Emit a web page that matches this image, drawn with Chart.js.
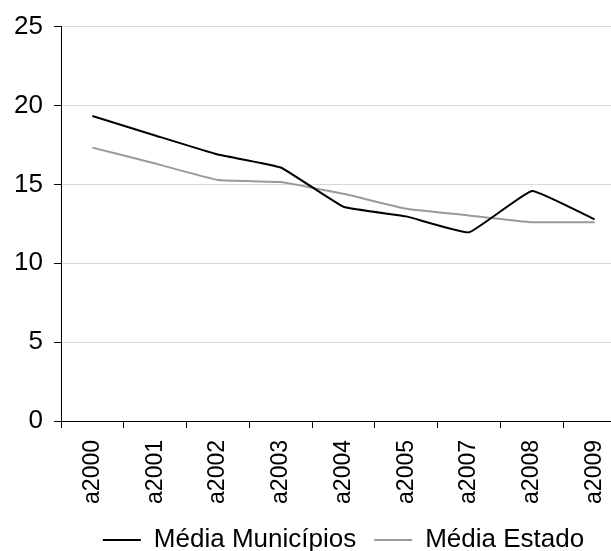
<!DOCTYPE html>
<html>
<head>
<meta charset="utf-8">
<script src="https://cdn.jsdelivr.net/npm/chart.js@4/dist/chart.umd.min.js"></script>
<style>
  html, body { margin: 0; padding: 0; background: #fff; overflow: hidden; width: 611px; height: 551px; }
  #wrap { position: absolute; left: 0; top: 0; width: 640px; height: 563px; }
</style>
</head>
<body>
<div id="wrap"><canvas id="chart"></canvas></div>
<script>
// Categories (years) and the two series
const years = ['a2000', 'a2001', 'a2002', 'a2003', 'a2004', 'a2005', 'a2007', 'a2008', 'a2009'];
const mediaMunicipios = [19.33, 18.1, 16.89, 16.07, 13.58, 12.97, 11.96, 14.58, 12.78];
const mediaEstado = [17.33, 16.32, 15.28, 15.15, 14.4, 13.45, 13.03, 12.6, 12.6];
const yTicks = [0, 5, 10, 15, 20, 25];

const FONT = '"Liberation Sans", Arial, Helvetica, sans-serif';

new Chart(document.getElementById('chart'), {
  type: 'line',
  data: {
    labels: years,
    datasets: [
      {
        label: 'Média Municípios',
        data: mediaMunicipios,
        borderColor: '#000000',
        backgroundColor: '#000000',
        borderWidth: 2,
        pointRadius: 0,
        tension: 0.1
      },
      {
        label: 'Média Estado',
        data: mediaEstado,
        borderColor: '#9a9a9a',
        backgroundColor: '#9a9a9a',
        borderWidth: 2,
        pointRadius: 0,
        tension: 0.1
      }
    ]
  },
  options: {
    responsive: true,
    maintainAspectRatio: false,
    animation: false,
    layout: { padding: { top: 12, right: 14, left: 0, bottom: 0 } },
    plugins: {
      tooltip: { enabled: false },
      legend: {
        position: 'bottom',
        fullSize: false,
        labels: {
          font: { family: FONT, size: 26 },
          color: '#000',
          boxWidth: 38,
          boxHeight: 2,
          padding: 18,
          generateLabels(chart) {
            return chart.data.datasets.map((ds, i) => ({
              text: ds.label,
              fillStyle: ds.borderColor,
              strokeStyle: ds.borderColor,
              lineWidth: 0,
              fontColor: '#000',
              datasetIndex: i,
              hidden: false
            }));
          }
        }
      }
    },
    scales: {
      x: {
        type: 'category',
        offset: true,
        grid: {
          display: true,
          offset: true,
          drawOnChartArea: false,
          drawTicks: true,
          tickLength: 7,
          tickColor: '#000',
          tickWidth: 1
        },
        border: { display: true, color: '#000', width: 1 },
        ticks: {
          minRotation: 90,
          maxRotation: 90,
          padding: 12,
          color: '#000',
          font: { family: FONT, size: 23 }
        },
        afterFit(scale) { scale.height = 88; }
      },
      y: {
        min: 0,
        max: 25,
        afterBuildTicks(scale) { scale.ticks = yTicks.map(v => ({ value: v })); },
        grid: {
          color: '#d9d9d9',
          lineWidth: 1,
          drawTicks: true,
          tickLength: 7,
          tickColor: '#000'
        },
        border: { display: true, color: '#000', width: 1 },
        ticks: {
          padding: 11,
          color: '#000',
          font: { family: FONT, size: 26 }
        },
        afterFit(scale) { scale.width = 61; }
      }
    }
  }
});
</script>
</body>
</html>
